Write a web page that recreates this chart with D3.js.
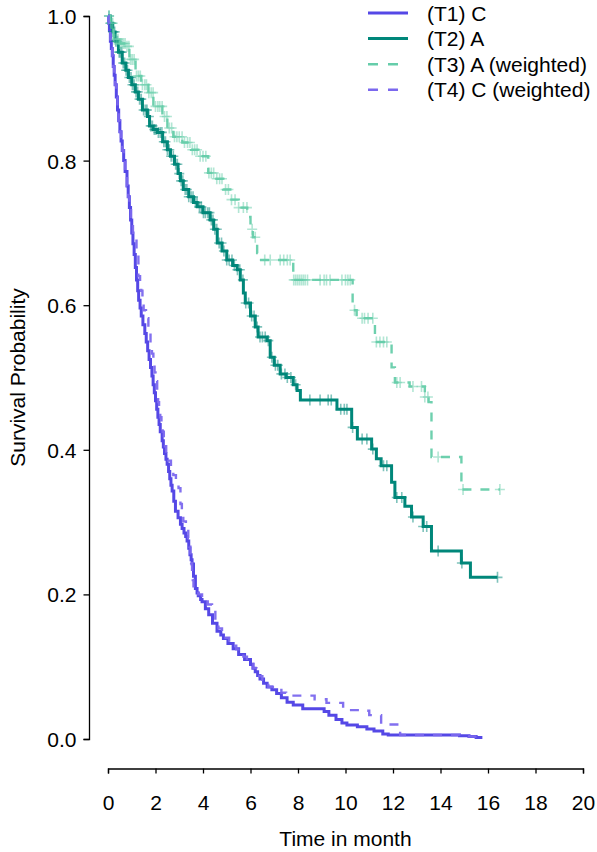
<!DOCTYPE html>
<html>
<head>
<meta charset="utf-8">
<script src="https://cdn.jsdelivr.net/npm/d3@7"></script>
<style>
    body { margin: 0; background: #ffffff; }
    text { font-family: "Liberation Sans", Arial, Helvetica, sans-serif; font-size: 21px; fill: #000; }
</style>
</head>
<body>
<div id="wrapper"></div>
<script>

// (T1) C
const t1Time = [0, 0.03, 0.06, 0.1, 0.14, 0.18, 0.22, 0.26, 0.3, 0.35, 0.4, 0.45, 0.5, 0.55, 0.6, 0.66, 0.72, 0.8, 0.85, 0.9,
    0.95, 1.0, 1.05, 1.1, 1.15, 1.2, 1.25, 1.29, 1.35, 1.4, 1.47, 1.55, 1.61, 1.67, 1.73, 1.79, 1.85, 1.9, 1.95, 2.0,
    2.05, 2.1, 2.15, 2.2, 2.28, 2.33, 2.38, 2.44, 2.49, 2.55, 2.6, 2.65, 2.7, 2.77, 2.84, 2.95, 3.05, 3.12, 3.2, 3.27,
    3.33, 3.4, 3.45, 3.5, 3.54, 3.6, 3.68, 3.75, 3.8, 3.9, 3.96, 4.1, 4.24, 4.4, 4.59, 4.75, 4.86, 5.05, 5.27, 5.5,
    5.75, 6.0, 6.1, 6.2, 6.3, 6.4, 6.55, 6.7, 6.9, 7.1, 7.3, 7.54, 7.8, 8.2, 9.1, 9.3, 9.6, 9.85, 10.06, 10.5,
    10.9, 11.2, 11.57, 11.8, 14.8, 15.2, 15.5, 15.7];
const t1Surv = [1, 0.99, 0.98, 0.965, 0.955, 0.945, 0.93, 0.918, 0.905, 0.888, 0.87, 0.855, 0.84, 0.827, 0.814, 0.80, 0.785, 0.765, 0.75, 0.735,
    0.718, 0.70, 0.685, 0.67, 0.652, 0.635, 0.62, 0.607, 0.596, 0.585, 0.573, 0.561, 0.549, 0.537, 0.525, 0.514, 0.502, 0.49, 0.479, 0.468,
    0.456, 0.445, 0.435, 0.425, 0.4125, 0.404, 0.395, 0.387, 0.38, 0.37, 0.36, 0.351, 0.343, 0.329, 0.315, 0.306, 0.297, 0.291, 0.285, 0.28,
    0.274, 0.264, 0.255, 0.248, 0.242, 0.225, 0.208, 0.202, 0.198, 0.193, 0.19, 0.18, 0.172, 0.16, 0.149, 0.144, 0.139, 0.132, 0.125, 0.117,
    0.11, 0.103, 0.098, 0.093, 0.088, 0.083, 0.077, 0.072, 0.068, 0.063, 0.057, 0.051, 0.047, 0.042, 0.038, 0.033, 0.027, 0.022, 0.0195, 0.017,
    0.014, 0.011, 0.007, 0.0055, 0.0045, 0.0035, 0.002, 0.0];

// (T2) A
const t2Time = [0, 0.1, 0.2, 0.3, 0.44, 0.6, 0.75, 0.86, 1.0, 1.15, 1.28, 1.45, 1.66, 1.75, 1.9, 2.08, 2.3, 2.5, 2.63, 2.8,
    2.95, 3.05, 3.17, 3.4, 3.6, 3.76, 4.0, 4.3, 4.45, 4.6, 4.8, 5.0, 5.25, 5.44, 5.57, 5.7, 5.78, 6.0, 6.2, 6.32,
    6.7, 6.83, 7.0, 7.25, 7.5, 7.8, 7.96, 8.1, 9.64, 10.26, 10.5, 11.1, 11.3, 11.5, 11.94, 12.08, 12.5, 12.78, 13.27, 13.62,
    14.88, 15.26, 16.4];
const t2Surv = [1, 0.99, 0.978, 0.965, 0.95, 0.935, 0.925, 0.915, 0.905, 0.895, 0.885, 0.87, 0.861, 0.848, 0.843, 0.839, 0.826, 0.815, 0.806, 0.795,
    0.782, 0.772, 0.76, 0.75, 0.742, 0.736, 0.728, 0.718, 0.705, 0.686, 0.675, 0.6625, 0.655, 0.649, 0.635, 0.617, 0.603, 0.585, 0.57, 0.556,
    0.551, 0.528, 0.517, 0.505, 0.5, 0.49, 0.482, 0.469, 0.456, 0.431, 0.415, 0.401, 0.3875, 0.378, 0.355, 0.334, 0.322, 0.307, 0.294, 0.26,
    0.2435, 0.2236, 0.2236];
const t2Censor = [0.04, 0.1, 0.15, 0.22, 0.28, 0.33, 0.4, 0.47, 0.52, 0.58, 0.64, 0.7, 0.76, 0.82, 0.9, 0.97, 1.03, 1.1, 1.18, 1.25,
    1.33, 1.4, 1.5, 1.58, 1.64, 1.72, 1.8, 1.87, 1.95, 2.02, 2.12, 2.2, 2.27, 2.35, 2.42, 2.5, 2.58, 2.66, 2.75, 2.85,
    2.92, 3.0, 3.08, 3.15, 3.25, 3.32, 3.4, 3.5, 3.58, 3.68, 3.75, 3.85, 3.93, 4.02, 4.1, 4.2, 4.27, 4.35, 4.42, 4.5,
    4.58, 4.68, 4.78, 4.88, 5.0, 5.1, 5.22, 5.32, 5.45, 5.55, 5.68, 5.8, 5.92, 6.05, 6.15, 6.28, 6.4, 6.5, 6.62, 6.75,
    6.9, 7.05, 7.15, 7.3, 7.45, 7.55, 7.7, 7.9, 8.5, 8.93, 9.27, 9.4, 9.8, 9.95, 10.06, 10.3, 10.7, 10.9, 11.15, 11.6,
    11.74, 12.16, 12.37, 12.84, 13.27, 13.42, 13.9, 14.9, 16.4];

// (T3) A (weighted)
const t3Time = [0, 0.1, 0.23, 0.5, 0.74, 0.9, 1.16, 1.4, 1.7, 1.91, 2.29, 2.5, 2.75, 3.13, 3.5, 3.8, 4.22, 4.5, 4.85, 5.15,
    5.5, 5.86, 6.0, 6.1, 6.28, 6.35, 7.8, 10.3, 10.47, 11.24, 11.94, 12.08, 12.7, 13.34, 13.5, 13.62, 14.88, 16.5];
const t3Surv = [1, 0.99, 0.968, 0.962, 0.958, 0.94, 0.917, 0.905, 0.894, 0.875, 0.861, 0.845, 0.833, 0.825, 0.815, 0.806, 0.783, 0.775, 0.76, 0.746,
    0.735, 0.722, 0.705, 0.694, 0.672, 0.6625, 0.635, 0.593, 0.582, 0.549, 0.514, 0.493, 0.4875, 0.473, 0.466, 0.39, 0.345, 0.345];
const t3Censor = [0.05, 0.12, 0.2, 0.27, 0.35, 0.42, 0.5, 0.57, 0.65, 0.72, 0.8, 0.88, 0.95, 1.02, 1.1, 1.2, 1.28, 1.36, 1.45, 1.55,
    1.62, 1.72, 1.82, 1.9, 2.0, 2.1, 2.18, 2.28, 2.38, 2.48, 2.58, 2.68, 2.8, 2.9, 3.0, 3.12, 3.22, 3.35, 3.45, 3.55,
    3.65, 3.75, 3.88, 4.0, 4.12, 4.25, 4.35, 4.45, 4.58, 4.7, 4.8, 4.95, 5.07, 5.2, 5.35, 5.5, 5.7, 5.85, 6.07, 6.2,
    6.6, 6.83, 7.25, 7.4, 7.55, 7.67, 7.82, 7.9, 7.98, 8.06, 8.14, 8.22, 8.3, 8.4, 8.93, 9.1, 9.2, 9.35, 9.85, 10.0,
    10.1, 10.2, 10.38, 10.7, 10.8, 10.95, 11.15, 11.3, 11.45, 11.6, 11.74, 12.16, 12.3, 12.84, 13.2, 13.34, 13.47, 13.9, 14.95, 16.5];

// (T4) C (weighted)
const t4Time = [0, 0.03, 0.06, 0.1, 0.14, 0.18, 0.22, 0.26, 0.3, 0.35, 0.4, 0.45, 0.5, 0.55, 0.6, 0.66, 0.72, 0.8, 0.85, 0.9,
    0.97, 1.05, 1.2, 1.28, 1.35, 1.4, 1.45, 1.5, 1.6, 1.7, 1.79, 1.85, 1.91, 1.96, 2.0, 2.07, 2.11, 2.15, 2.2, 2.25,
    2.3, 2.35, 2.4, 2.45, 2.54, 2.65, 2.75, 2.86, 2.97, 3.05, 3.11, 3.17, 3.28, 3.38, 3.43, 3.47, 3.5, 3.54, 3.57, 3.6,
    3.7, 3.8, 3.96, 4.2, 4.38, 4.52, 4.65, 4.8, 4.95, 5.1, 5.25, 5.4, 5.55, 5.7, 5.85, 6.0, 6.12, 6.25, 6.37, 6.5,
    6.62, 6.75, 7.0, 7.3, 7.5, 8.7, 9.2, 9.9, 10.6, 11.0, 11.5, 12.3, 14.8, 15.2, 15.6];
const t4Surv = [1, 0.99, 0.98, 0.965, 0.955, 0.945, 0.93, 0.918, 0.905, 0.888, 0.87, 0.855, 0.84, 0.827, 0.814, 0.80, 0.785, 0.765, 0.75, 0.735,
    0.715, 0.693, 0.675, 0.64, 0.63, 0.62, 0.606, 0.593, 0.582, 0.572, 0.547, 0.533, 0.519, 0.507, 0.495, 0.478, 0.466, 0.455, 0.445, 0.435,
    0.425, 0.415, 0.405, 0.395, 0.385, 0.375, 0.365, 0.356, 0.347, 0.325, 0.313, 0.301, 0.29, 0.278, 0.266, 0.255, 0.243, 0.232, 0.22, 0.208,
    0.204, 0.2, 0.193, 0.186, 0.179, 0.16, 0.153, 0.146, 0.14, 0.134, 0.129, 0.124, 0.119, 0.114, 0.109, 0.104, 0.098, 0.092, 0.087, 0.082,
    0.077, 0.072, 0.068, 0.064, 0.06, 0.055, 0.05, 0.04, 0.039, 0.033, 0.02, 0.0055, 0.0045, 0.0035, 0.002];

const legendLabels = ["(T1) C", "(T2) A", "(T3) A (weighted)", "(T4) C (weighted)"];
const xTickValues = [0, 2, 4, 6, 8, 10, 12, 14, 16, 18, 20];
const yTickValues = [0, 0.2, 0.4, 0.6, 0.8, 1.0];

let dimension = {
    width: 597,
    height: 852,
    margin: {
        top: 16,
        left: 108,
        bottom: 113,
        right: 14
    }
}
dimension.boundedWidth = dimension.width - dimension.margin.left - dimension.margin.right;
dimension.boundedHeight = dimension.height - dimension.margin.top - dimension.margin.bottom;

function buildPlot() {
    const svg = d3.select("#wrapper").append("svg")
        .attr("width", dimension.width)
        .attr("height", dimension.height);

    const xScale = d3.scaleLinear()
        .domain([0, 20])
        .range([dimension.margin.left, dimension.margin.left + dimension.boundedWidth]);
    const yScale = d3.scaleLinear()
        .domain([0, 1])
        .range([dimension.margin.top + dimension.boundedHeight, dimension.margin.top]);

    // axes, R style: detached from the plot region
    const xAxis = svg.append("g")
        .attr("transform", "translate(0,768.5)")
        .call(d3.axisBottom(xScale).tickValues(xTickValues).tickSize(5).tickPadding(22).tickFormat(d3.format("d")));
    const yAxis = svg.append("g")
        .attr("transform", "translate(89,0)")
        .call(d3.axisLeft(yScale).tickValues(yTickValues).tickSize(5.5).tickPadding(7).tickFormat(d3.format(".1f")));

    [xAxis, yAxis].forEach(ax => {
        ax.select(".domain").attr("stroke", "#000").attr("stroke-width", 1.3);
        ax.selectAll(".tick line").attr("stroke", "#000").attr("stroke-width", 1.3);
        ax.selectAll(".tick text")
            .attr("font-family", null)
            .attr("font-size", null)
            .style("font-size", "21px");
    });
    yAxis.selectAll(".tick text").attr("dy", "0.36em");

    svg.append("text")
        .attr("x", xScale(10))
        .attr("y", 846)
        .attr("text-anchor", "middle")
        .text("Time in month");

    svg.append("text")
        .attr("transform", `translate(25,${yScale(0.5)}) rotate(-90)`)
        .attr("text-anchor", "middle")
        .text("Survival Probability");

    const series = [
        { time: t1Time, surv: t1Surv, censor: [], color: "#5548e6", width: 3, dash: null, opacity: 1 },
        { time: t2Time, surv: t2Surv, censor: t2Censor, color: "#00877a", width: 3, dash: null, opacity: 1 },
        { time: t3Time, surv: t3Surv, censor: t3Censor, color: "#66cdaa", width: 2.4, dash: "9,9", opacity: 0.95 },
        { time: t4Time, surv: t4Surv, censor: [], color: "#7b68ee", width: 2.4, dash: "9,9", opacity: 0.95 }
    ];

    const line = d3.line()
        .x(d => xScale(d[0]))
        .y(d => yScale(d[1]))
        .curve(d3.curveStepAfter);

    const plot = svg.append("g");

    series.forEach(s => {
        const pts = s.time.map((t, i) => [t, s.surv[i]]);
        plot.append("path")
            .attr("d", line(pts))
            .attr("fill", "none")
            .attr("stroke", s.color)
            .attr("stroke-width", s.width)
            .attr("stroke-dasharray", s.dash)
            .attr("stroke-opacity", s.opacity);

        const survAt = t => s.surv[Math.max(0, d3.bisectRight(s.time, t) - 1)];
        plot.selectAll(null)
            .data(s.censor)
            .enter()
            .append("path")
            .attr("d", "M-5,0H5M0,-5.5V5.5")
            .attr("stroke", s.color)
            .attr("stroke-width", 1.6)
            .attr("stroke-opacity", 0.5)
            .attr("transform", d => `translate(${xScale(d)},${yScale(survAt(d))})`);
    });

    // legend
    const legend = svg.append("g");
    legendLabels.forEach((label, i) => {
        const yy = 13 + i * 25.6;
        legend.append("line")
            .attr("x1", 368).attr("x2", 408)
            .attr("y1", yy).attr("y2", yy)
            .attr("stroke", series[i].color)
            .attr("stroke-width", series[i].width)
            .attr("stroke-dasharray", series[i].dash ? "10,10" : null);
        legend.append("text")
            .attr("x", 427)
            .attr("y", yy)
            .attr("dy", "0.36em")
            .text(label);
    });
}

buildPlot()

</script>
</body>
</html>
